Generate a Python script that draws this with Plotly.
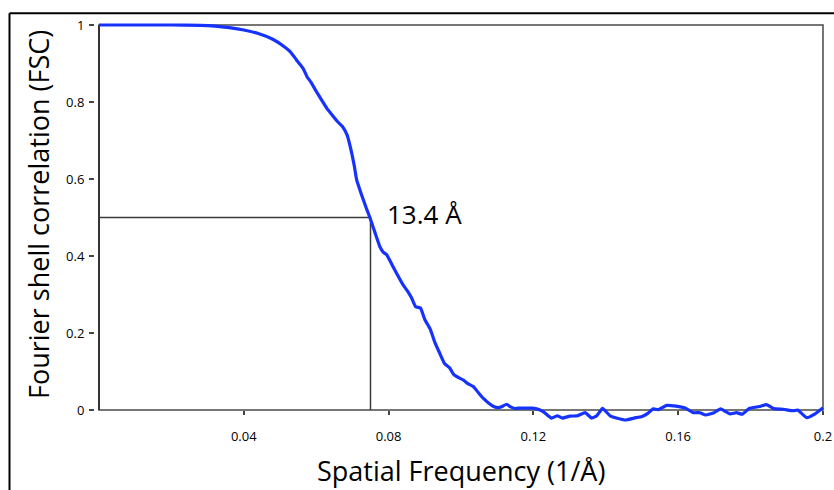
import plotly.graph_objects as go

# Spatial frequency (1/Å) and FSC values
freq = [0.000, 0.010, 0.020, 0.028, 0.032, 0.036, 0.040, 0.044, 0.048, 0.051, 0.0528,
        0.0545, 0.0564, 0.0575, 0.0585, 0.0600, 0.0615, 0.0629, 0.0645, 0.0660,
        0.0672, 0.0685, 0.0695, 0.0705, 0.0712, 0.0725, 0.0737, 0.0749, 0.0762,
        0.0776, 0.0785, 0.0795, 0.0808, 0.0822, 0.0840, 0.0855, 0.0864, 0.0875,
        0.0888, 0.0900, 0.0915, 0.0928, 0.0940, 0.0955, 0.0968, 0.0980, 0.0992,
        0.1006, 0.1020, 0.1034, 0.1048, 0.1062, 0.1076, 0.1090, 0.1103, 0.1115,
        0.1126, 0.1137, 0.1149, 0.1165, 0.1181, 0.1195, 0.1209, 0.1227, 0.1250,
        0.1266, 0.1280, 0.1301, 0.1322, 0.1343, 0.1361, 0.1375, 0.1391, 0.1412,
        0.1435, 0.1455, 0.1478, 0.1500, 0.1517, 0.1531, 0.1545, 0.1568, 0.1594,
        0.1619, 0.1642, 0.1660, 0.1676, 0.1699, 0.1717, 0.1743, 0.1761, 0.1777,
        0.1796, 0.1824, 0.1844, 0.1863, 0.1890, 0.1918, 0.1930, 0.1955, 0.1978,
        0.2000]
fsc = [1.000, 1.000, 1.000, 0.999, 0.997, 0.993, 0.987, 0.978, 0.963, 0.945, 0.931,
       0.910, 0.887, 0.865, 0.852, 0.828, 0.805, 0.784, 0.765, 0.748,
       0.737, 0.715, 0.680, 0.635, 0.597, 0.560, 0.528, 0.498, 0.462,
       0.424, 0.410, 0.403, 0.380, 0.355, 0.325, 0.305, 0.290, 0.268,
       0.265, 0.235, 0.210, 0.175, 0.150, 0.120, 0.110, 0.092, 0.085,
       0.078, 0.068, 0.061, 0.045, 0.030, 0.018, 0.009, 0.006, 0.010,
       0.015, 0.008, 0.004, 0.005, 0.005, 0.005, 0.003, -0.004, -0.021,
       -0.015, -0.021, -0.016, -0.015, -0.007, -0.021, -0.015, 0.004, -0.015,
       -0.022, -0.026, -0.021, -0.017, -0.008, 0.003, 0.001, 0.012, 0.010,
       0.005, -0.007, -0.007, -0.013, -0.007, 0.003, -0.010, -0.007, -0.011,
       0.004, 0.009, 0.014, 0.004, 0.002, -0.002, 0.000, -0.020, -0.010,
       0.006]

xtick_vals = [0.04, 0.08, 0.12, 0.16, 0.2]
xtick_text = ["0.04", "0.08", "0.12", "0.16", "0.2"]
ytick_vals = [0, 0.2, 0.4, 0.6, 0.8, 1]
ytick_text = ["0", "0.2", "0.4", "0.6", "0.8", "1"]

res_freq = 0.075
res_fsc = 0.5
res_label = "13.4 Å"

W, H = 834, 490
L, R, T, B = 95, 7, 20, 62
PW = W - L - R   # 732
PH = H - T - B   # 408
xppu = 3620.0
yppu = 385.0
xr = [-4 / xppu, 0.2 + 4 / xppu]
yr = [-18 / yppu, 1 + 5 / yppu]

def px2paper_x(px):
    return (px - L) / PW

def py2paper_y(py):
    return (H - B - py) / PH

font_title = "Open Sans"
font_tick = "Open Sans"

fig = go.Figure()
fig.add_trace(go.Scatter(x=freq, y=fsc, mode="lines",
                         line=dict(color="rgb(22,50,255)", width=3.2, shape="spline", smoothing=0.4),
                         hoverinfo="x+y", showlegend=False))

shapes = []
# plot frame
shapes.append(dict(type="rect", xref="x", yref="y", x0=0, x1=0.2, y0=0, y1=1,
                   line=dict(color="#4a4a4a", width=1.5), layer="below"))
shapes.append(dict(type="line", xref="x", yref="y", x0=0, x1=0, y0=0, y1=1,
                   line=dict(color="#333333", width=2), layer="below"))
# resolution marker lines
shapes.append(dict(type="line", xref="x", yref="y", x0=0, x1=res_freq, y0=res_fsc, y1=res_fsc,
                   line=dict(color="#3a3a3a", width=1.5), layer="below"))
shapes.append(dict(type="line", xref="x", yref="y", x0=res_freq, x1=res_freq, y0=0, y1=res_fsc,
                   line=dict(color="#3a3a3a", width=1.5), layer="below"))
# outer black frame (top and left)
shapes.append(dict(type="line", xref="paper", yref="paper",
                   x0=px2paper_x(9.5), x1=px2paper_x(850), y0=py2paper_y(13.3), y1=py2paper_y(13.3),
                   line=dict(color="black", width=2)))
shapes.append(dict(type="line", xref="paper", yref="paper",
                   x0=px2paper_x(9.5), x1=px2paper_x(9.5), y0=py2paper_y(13.3), y1=py2paper_y(510),
                   line=dict(color="black", width=2)))

annotations = [
    dict(text=res_label, x=px2paper_x(424), y=py2paper_y(214), xref="paper", yref="paper",
         showarrow=False, font=dict(family=font_title, size=26, color="black"),
         xanchor="center", yanchor="middle"),
    dict(text="Spatial Frequency (1/Å)", x=px2paper_x(461), y=py2paper_y(470),
         xref="paper", yref="paper", showarrow=False,
         font=dict(family=font_title, size=27, color="black"), xanchor="center", yanchor="middle"),
    dict(text="Fourier shell correlation (FSC)", x=px2paper_x(38), y=py2paper_y(215),
         xref="paper", yref="paper", showarrow=False, textangle=-90,
         font=dict(family=font_title, size=27, color="black"), xanchor="center", yanchor="middle"),
]

fig.update_layout(
    width=W, height=H,
    margin=dict(l=L, r=R, t=T, b=B, autoexpand=False),
    paper_bgcolor="white", plot_bgcolor="white",
    shapes=shapes, annotations=annotations,
    xaxis=dict(range=xr, tickvals=xtick_vals, ticktext=xtick_text, ticks="outside",
               ticklen=4, tickwidth=1.5, tickcolor="#444444", showgrid=False, zeroline=False,
               showline=False, anchor="free", position=py2paper_y(410), automargin=False,
               tickfont=dict(family=font_tick, size=13, color="black"), ticklabelstandoff=10),
    yaxis=dict(range=yr, tickvals=ytick_vals, ticktext=ytick_text, ticks="outside",
               ticklen=5, tickwidth=1.5, tickcolor="#444444", showgrid=False, zeroline=False,
               showline=False, automargin=False,
               tickfont=dict(family=font_tick, size=13, color="black"), ticklabelstandoff=2),
)

fig.write_html("out.html", config={"displayModeBar": False},
               post_script="document.body.style.margin='0px';document.body.style.overflow='hidden';")
